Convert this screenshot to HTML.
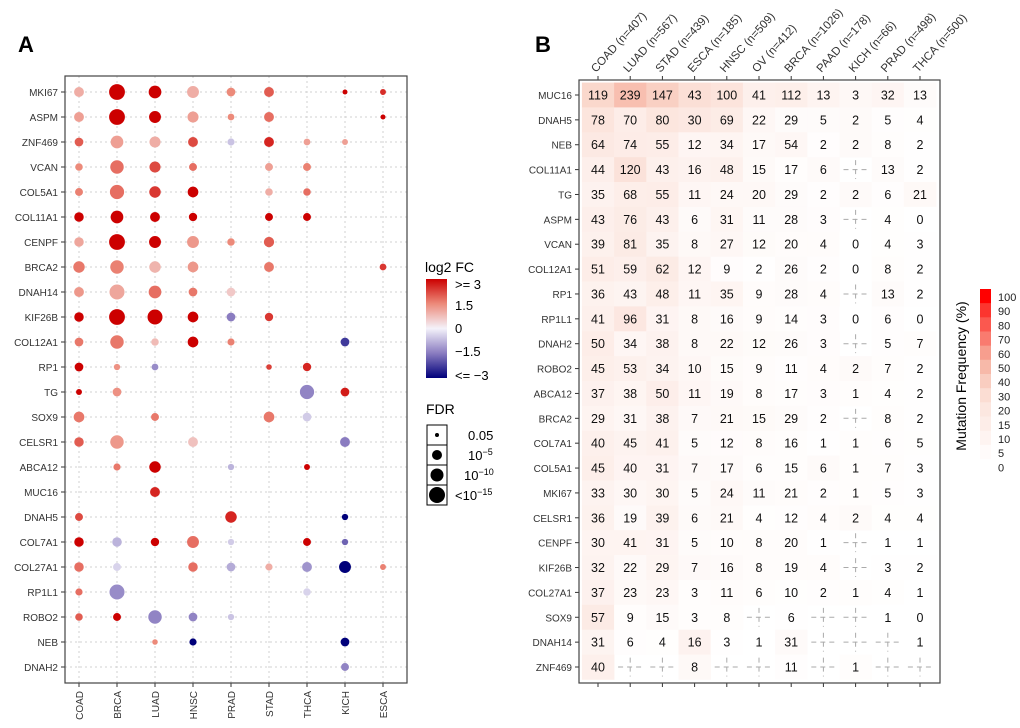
<!DOCTYPE html>
<html><head><meta charset="utf-8"><style>
body{margin:0;background:#fff;font-family:"Liberation Sans",Arial,sans-serif}
svg text{font-family:"Liberation Sans",Arial,sans-serif}
</style></head><body>
<svg id="s" width="1020" height="723" xmlns="http://www.w3.org/2000/svg">
<text x="18" y="52" font-size="22" font-weight="bold">A</text>
<text x="535" y="52" font-size="22" font-weight="bold">B</text>
<g id="ga"></g>
<g id="gb"></g>
<g>
<text x="425" y="272" font-size="14">log2 FC</text>
<defs><linearGradient id="fcg" x1="0" y1="0" x2="0" y2="1"><stop offset="0" stop-color="#cc0000"/><stop offset="0.25" stop-color="#ec8a7a"/><stop offset="0.5" stop-color="#f4f2fa"/><stop offset="0.75" stop-color="#8a7cc0"/><stop offset="1" stop-color="#00007a"/></linearGradient></defs>
<rect x="426" y="279" width="21" height="99" fill="url(#fcg)"/>
<text x="455" y="289" font-size="13">&gt;= 3</text>
<text x="455" y="310" font-size="13">1.5</text>
<text x="455" y="333" font-size="13">0</text>
<text x="455" y="356" font-size="13">−1.5</text>
<text x="455" y="380" font-size="13">&lt;= −3</text>
</g>
<g>
<text x="426" y="414" font-size="14">FDR</text>
<g stroke="#000" stroke-width="1" fill="none"><rect x="427" y="425" width="20" height="20"/><rect x="427" y="445" width="20" height="20"/><rect x="427" y="465" width="20" height="20"/><rect x="427" y="485" width="20" height="20"/></g>
<circle cx="437" cy="435" r="2" fill="#000"/><circle cx="437" cy="455" r="5" fill="#000"/><circle cx="437" cy="475" r="6.5" fill="#000"/><circle cx="437" cy="495" r="8" fill="#000"/>
<text x="468" y="440" font-size="13">0.05</text>
<text x="468" y="460" font-size="13">10<tspan dy="-5" font-size="9">−5</tspan></text>
<text x="464" y="480" font-size="13">10<tspan dy="-5" font-size="9">−10</tspan></text>
<text x="455" y="500" font-size="13">&lt;10<tspan dy="-5" font-size="9">−15</tspan></text>
</g>
<g id="gl">
<text transform="translate(966,376) rotate(-90)" text-anchor="middle" font-size="14">Mutation Frequency (%)</text>
</g>
</svg>
<script>
const NS="http://www.w3.org/2000/svg";
function mk(p,t,a){const e=document.createElementNS(NS,t);for(const k in a)e.setAttribute(k,a[k]);p.appendChild(e);return e;}
// ---------- Panel A data ----------
const cancersA=["COAD","BRCA","LUAD","HNSC","PRAD","STAD","THCA","KICH","ESCA"];
const genesA=["MKI67","ASPM","ZNF469","VCAN","COL5A1","COL11A1","CENPF","BRCA2","DNAH14","KIF26B","COL12A1","RP1","TG","SOX9","CELSR1","ABCA12","MUC16","DNAH5","COL7A1","COL27A1","RP1L1","ROBO2","NEB","DNAH2"];
// each entry: [cancer index, log2FC, -log10 FDR]
const dotsA=[
[[0,1,7.5],[1,3,15],[2,3,11],[3,1,10],[4,1.5,6],[5,2,7.5],[7,3,1.3],[8,2.5,2.5]],
[[0,1.2,7.5],[1,3,15],[2,3,10],[3,1.2,9],[4,1.5,3.5],[5,1.8,7.5],[8,3,1.3]],
[[0,2,6],[1,1.2,11],[2,1,9],[3,2.2,7.5],[4,-0.6,4],[5,2.6,7.5],[6,1.2,3.5],[7,1.2,2.5]],
[[0,1.5,4.5],[1,1.8,12],[2,2.2,9],[3,1.8,5],[5,1.2,5],[6,1.6,5]],
[[0,1.6,5],[1,1.8,13],[2,2.4,9.5],[3,3,8.5],[5,1,4.5],[6,1.8,4.5]],
[[0,3,7],[1,3,11],[2,3,7.5],[3,3,5.5],[5,3,5],[6,3,5]],
[[0,1.1,7],[1,3,15],[2,3,10],[3,1.3,10],[4,1.5,4.5],[5,2,8]],
[[0,1.7,9.5],[1,1.6,12],[2,0.9,9.5],[3,1.3,8.5],[5,1.7,7.5],[8,2.4,3.5]],
[[0,1.3,7.5],[1,1.1,14],[2,1.8,11],[3,1.7,6],[4,0.6,6]],
[[0,3,7],[1,3,15],[2,3,14],[3,3,8.5],[4,-1.5,6],[5,2.4,5.5]],
[[0,1.7,6],[1,1.7,12],[2,0.8,4.5],[3,3,8.5],[4,1.6,4],[7,-2.3,6]],
[[0,3,6],[1,1.4,3],[2,-1.3,3.5],[5,2.3,2],[6,2.6,5.5]],
[[0,3,2.5],[1,1.4,6],[6,-1.4,13],[7,2.7,6]],
[[0,1.7,8.5],[2,1.7,5],[5,1.7,8.5],[6,-0.5,6]],
[[0,2,7],[1,1.3,12],[3,0.7,7.5],[7,-1.5,7.5]],
[[1,1.7,4],[2,3,9.5],[4,-0.8,3],[6,3,2.5]],
[[2,2.6,7.5]],
[[0,2.2,5],[4,2.6,9.5],[7,-3,3]],
[[0,3,7],[1,-0.8,7],[2,3,5.5],[3,1.8,10],[4,-0.5,3],[6,3,5],[7,-1.8,3]],
[[0,1.8,7],[1,-0.4,5],[3,1.8,7],[4,-0.9,6],[5,1,4],[6,-1.2,7.5],[7,-3,10],[8,1.6,2.5]],
[[0,1.8,4],[1,-1.3,14],[6,-0.4,4.5]],
[[0,2,4.5],[1,3,5],[2,-1.4,12],[3,-1.4,6],[4,-0.6,3]],
[[2,1.5,2],[3,-3,4],[7,-3,6]],
[[7,-1.4,5]]
];
// ---------- Panel B data ----------
const cancersB=["COAD","LUAD","STAD","ESCA","HNSC","OV","BRCA","PAAD","KICH","PRAD","THCA"];
const nB=[407,567,439,185,509,412,1026,178,66,498,500];
const genesB=["MUC16","DNAH5","NEB","COL11A1","TG","ASPM","VCAN","COL12A1","RP1","RP1L1","DNAH2","ROBO2","ABCA12","BRCA2","COL7A1","COL5A1","MKI67","CELSR1","CENPF","KIF26B","COL27A1","SOX9","DNAH14","ZNF469"];
const N=null;
const countsB=[
[119,239,147,43,100,41,112,13,3,32,13],
[78,70,80,30,69,22,29,5,2,5,4],
[64,74,55,12,34,17,54,2,2,8,2],
[44,120,43,16,48,15,17,6,N,13,2],
[35,68,55,11,24,20,29,2,2,6,21],
[43,76,43,6,31,11,28,3,N,4,0],
[39,81,35,8,27,12,20,4,0,4,3],
[51,59,62,12,9,2,26,2,0,8,2],
[36,43,48,11,35,9,28,4,N,13,2],
[41,96,31,8,16,9,14,3,0,6,0],
[50,34,38,8,22,12,26,3,N,5,7],
[45,53,34,10,15,9,11,4,2,7,2],
[37,38,50,11,19,8,17,3,1,4,2],
[29,31,38,7,21,15,29,2,N,8,2],
[40,45,41,5,12,8,16,1,1,6,5],
[45,40,31,7,17,6,15,6,1,7,3],
[33,30,30,5,24,11,21,2,1,5,3],
[36,19,39,6,21,4,12,4,2,4,4],
[30,41,31,5,10,8,20,1,N,1,1],
[32,22,29,7,16,8,19,4,N,3,2],
[37,23,23,3,11,6,10,2,1,4,1],
[57,9,15,3,8,N,6,N,N,1,0],
[31,6,4,16,3,1,31,N,N,N,1],
[40,N,N,8,N,N,11,N,1,N,N]
];
const legendBins=[100,90,80,70,60,50,40,30,20,15,10,5,0];

// ---------- scales ----------
const ax=i=>79+i*38, ay=i=>92+i*25;
const rA=l=>2+6.3*Math.min(l,16)/16;
function lerp(a,b,t){return a.map((v,i)=>Math.round(v+(b[i]-v)*t));}
function fcColor(f){f=Math.max(-3,Math.min(3,f));
 const st=[[-3,[0,0,122]],[-1.5,[138,124,192]],[0,[244,242,250]],[1.5,[236,138,122]],[3,[204,0,0]]];
 for(let i=0;i<4;i++){if(f<=st[i+1][0]){const c=lerp(st[i][1],st[i+1][1],(f-st[i][0])/(st[i+1][0]-st[i][0]));return `rgb(${c})`;}}
}
function pctColor(p){p=Math.max(0,Math.min(100,p));
 const st=[[0,[255,255,255]],[10,[253,240,236]],[30,[250,215,203]],[50,[246,175,158]],[100,[255,0,0]]];
 for(let i=0;i<4;i++){if(p<=st[i+1][0]){const c=lerp(st[i][1],st[i+1][1],(p-st[i][0])/(st[i+1][0]-st[i][0]));return `rgb(${c})`;}}
}
// ---------- Panel A ----------
const ga=document.getElementById('ga');
mk(ga,'rect',{x:65,y:76,width:342,height:607,fill:'#fff'});
genesA.forEach((g,i)=>{
 const l=mk(ga,'line',{x1:65,x2:407,y1:ay(i),y2:ay(i),stroke:'#d0d0d0','stroke-dasharray':'2,3'});
 
 mk(ga,'line',{x1:61,x2:65,y1:ay(i),y2:ay(i),stroke:'#333'});
 const t=mk(ga,'text',{x:58,y:ay(i)+4,'text-anchor':'end','font-size':10,fill:'#333'});t.textContent=g;
 
});
cancersA.forEach((c,j)=>{
 mk(ga,'line',{x1:ax(j),x2:ax(j),y1:76,y2:683,stroke:'#d0d0d0','stroke-dasharray':'2,3'});
 mk(ga,'line',{x1:ax(j),x2:ax(j),y1:683,y2:687,stroke:'#333'});
 const t=mk(ga,'text',{transform:`translate(${ax(j)+4},691) rotate(-90)`,'text-anchor':'end','font-size':10,fill:'#333'});t.textContent=c;
 
});
dotsA.forEach((row,i)=>row.forEach(d=>{
 const c=mk(ga,'circle',{cx:ax(d[0]),cy:ay(i),r:rA(d[2]).toFixed(2),fill:fcColor(d[1])});
 
 
}));
mk(ga,'rect',{x:65,y:76,width:342,height:607,fill:'none',stroke:'#444','stroke-width':1.2});
// ---------- Panel B ----------
const gb=document.getElementById('gb');
const bx=j=>598+j*32.2, by=i=>95+i*24.87, cw=32.2, ch=24.87;
countsB.forEach((row,i)=>row.forEach((v,j)=>{
 if(v===N){
  mk(gb,'line',{x1:bx(j)-cw/2+4,x2:bx(j)+cw/2-4,y1:by(i),y2:by(i),stroke:'#aaa','stroke-dasharray':'5,4'});
  mk(gb,'line',{x1:bx(j),x2:bx(j),y1:by(i)-ch/2+3,y2:by(i)+ch/2-3,stroke:'#aaa','stroke-dasharray':'5,4'});
  return;}
 const r=mk(gb,'rect',{x:(bx(j)-cw/2).toFixed(1),y:(by(i)-ch/2).toFixed(1),width:cw+0.3,height:ch+0.3,fill:pctColor(v/nB[j]*100)});
 
 
 const t=mk(gb,'text',{x:bx(j),y:by(i)+4.5,'text-anchor':'middle','font-size':12.5,fill:'#111'});t.textContent=v;
 
}));
genesB.forEach((g,i)=>{
 mk(gb,'line',{x1:575,x2:579,y1:by(i),y2:by(i),stroke:'#333'});
 const t=mk(gb,'text',{x:572,y:by(i)+4,'text-anchor':'end','font-size':10,fill:'#333'});t.textContent=g;
 
});
cancersB.forEach((c,j)=>{
 mk(gb,'line',{x1:bx(j),x2:bx(j),y1:76,y2:80,stroke:'#333'});
 mk(gb,'line',{x1:bx(j),x2:bx(j),y1:683,y2:687,stroke:'#333'});
 const t=mk(gb,'text',{transform:`translate(${bx(j)-2},73) rotate(-48)`,'font-size':11.5,fill:'#333'});t.textContent=`${c} (n=${nB[j]})`;
 
});
mk(gb,'rect',{x:579,y:80,width:361,height:603,fill:'none',stroke:'#444','stroke-width':1.2});
// legend B
const gl=document.getElementById('gl');
const nb=legendBins.length-1, bh=170/nb;
for(let k=0;k<nb;k++){
 const mid=(legendBins[k]+legendBins[k+1])/2;
 const r=mk(gl,'rect',{x:980,y:(289+k*bh).toFixed(1),width:11,height:bh+0.3,fill:pctColor(legendBins[k]===100?100:mid)});
 
}
legendBins.forEach((b,k)=>{
 const t=mk(gl,'text',{x:998,y:(301+k*14.2).toFixed(1),'font-size':11,fill:'#222'});t.textContent=b;
 
});
</script>
</body></html>
